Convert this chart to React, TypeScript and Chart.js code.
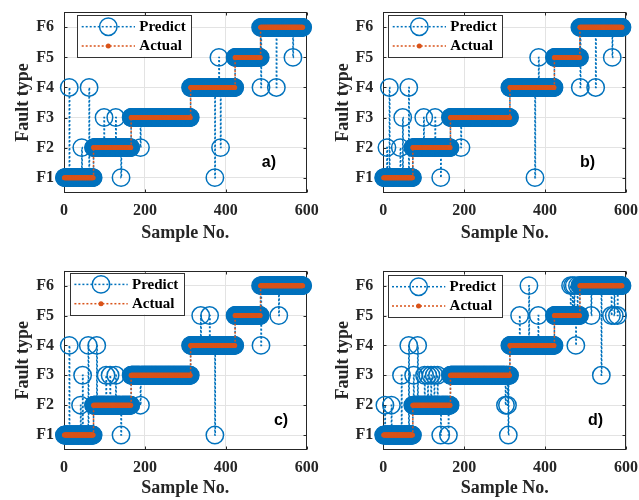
import React, { useEffect, useRef } from 'react';
import { Chart, registerables } from 'chart.js';

Chart.register(...registerables);

// ---------------- data ----------------
const classNames = ['F1', 'F2', 'F3', 'F4', 'F5', 'F6'];
const classValues = [1, 2, 3, 4, 5, 6];
// first sample number of each actual fault class F1..F6
const classStart = [1, 73, 166, 313, 423, 486];
const lastSample = 590;
const xTickValues = [0, 200, 400, 600];

// misclassified samples (sample number) and the class predicted for them
const missA = [13, 44, 62, 99, 128, 141, 189, 373, 383, 387, 487, 525, 566];
const predA = [4, 2, 4, 3, 3, 1, 2, 1, 5, 2, 4, 4, 5];

const missB = [9, 15, 42, 48, 63, 100, 128, 142, 192, 375, 384, 487, 525, 566];
const predB = [2, 4, 2, 3, 4, 3, 3, 1, 2, 1, 5, 4, 4, 5];

const missC = [13, 41, 46, 60, 81, 104, 114, 128, 141, 189, 338, 360, 373, 487, 531];
const predC = [4, 2, 3, 4, 4, 3, 3, 3, 1, 2, 5, 5, 1, 4, 5];

const missD = [4, 20, 45, 63, 75, 85, 102, 110, 118, 126, 134, 142, 161, 302, 307, 309, 337, 360, 383, 463, 468, 472, 476, 480, 514, 539, 564, 571, 579];
const predD = [2, 2, 3, 4, 3, 4, 3, 3, 3, 3, 3, 1, 1, 2, 2, 1, 5, 6, 5, 6, 6, 6, 4, 6, 5, 3, 5, 5, 5];

const panelLetters = ['a)', 'b)', 'c)', 'd)'];
const letterX = [489, 486, 519, 506];
const letterY = 1.5;

// ---------------- styles ----------------
const BLUE = '#0072BD';
const ORANGE = '#D95319';
const AXIS = '#262626';
const GRID = '#e3e3e3';
const SERIF = "'Liberation Serif', 'Times New Roman', serif";
const SANS = "'Liberation Sans', Arial, sans-serif";

interface Panel {
  left: number; top: number; w: number; h: number;
  padTop: number; padRight: number; yWidth: number; xHeight: number;
  xTickPad: number; xTitlePad: number;
  legDx: number; legDy: number;
  miss: number[]; pred: number[];
  idx: number;
}

const panels: Panel[] = [
  { left: 0, top: 0, w: 320, h: 250, padTop: 12.3, padRight: 13.3, yWidth: 64, xHeight: 57.3, xTickPad: 8.4, xTitlePad: 6.2, legDx: 13.3, legDy: 2.7, miss: missA, pred: predA, idx: 0 },
  { left: 320, top: 0, w: 319, h: 250, padTop: 12.3, padRight: 13, yWidth: 63.3, xHeight: 57.3, xTickPad: 8.4, xTitlePad: 6.2, legDx: 5, legDy: 2.7, miss: missB, pred: predB, idx: 1 },
  { left: 0, top: 250, w: 320, h: 250, padTop: 20.7, padRight: 13.3, yWidth: 64, xHeight: 50, xTickPad: 8.7, xTitlePad: 0.9, legDx: 6, legDy: 2, miss: missC, pred: predC, idx: 2 },
  { left: 320, top: 250, w: 319, h: 250, padTop: 20.7, padRight: 13, yWidth: 63.3, xHeight: 50, xTickPad: 8.7, xTitlePad: 0.9, legDx: 4.3, legDy: 4.3, miss: missD, pred: predD, idx: 3 },
];

function actualClass(s: number): number {
  let c = 0;
  for (let i = 0; i < classStart.length; i++) if (s >= classStart[i]) c = classValues[i];
  return c;
}

function buildSeries(miss: number[], pred: number[]) {
  const actual: { x: number; y: number }[] = [];
  const predicted: { x: number; y: number }[] = [];
  for (let s = 1; s <= lastSample; s++) {
    const a = actualClass(s);
    actual.push({ x: s, y: a });
    const k = miss.indexOf(s);
    predicted.push({ x: s, y: k >= 0 ? pred[k] : a });
  }
  return { actual, predicted };
}

const R_PRED = 8.7;

function makeFramePlugin(p: Panel) {
  return {
    id: 'frame' + p.idx,
    beforeDatasetsDraw(chart: any) {
      const { ctx, chartArea: ca, scales } = chart;
      ctx.save();
      ctx.strokeStyle = AXIS;
      ctx.lineWidth = 1;
      const L = Math.round(ca.left) + 0.5, R = Math.round(ca.right) - 0.5;
      const T = Math.round(ca.top) + 0.5, B = Math.round(ca.bottom) - 0.5;
      ctx.strokeRect(L, T, R - L, B - T);
      const tl = 3;
      ctx.beginPath();
      xTickValues.forEach((v) => {
        const x = Math.round(scales.x.getPixelForValue(v)) + 0.5;
        ctx.moveTo(x, B); ctx.lineTo(x, B - tl);
        ctx.moveTo(x, T); ctx.lineTo(x, T + tl);
      });
      classValues.forEach((v) => {
        const y = Math.round(scales.y.getPixelForValue(v)) + 0.5;
        ctx.moveTo(L, y); ctx.lineTo(L + tl, y);
        ctx.moveTo(R, y); ctx.lineTo(R - tl, y);
      });
      ctx.stroke();
      ctx.restore();
    },
    afterDraw(chart: any) {
      const { ctx, chartArea: ca, scales } = chart;
      ctx.save();
      // legend
      const lx = ca.left + p.legDx;
      const ly = ca.top + p.legDy;
      const lw = 114.4, lh = 41.7;
      ctx.fillStyle = '#ffffff';
      ctx.fillRect(lx, ly, lw, lh);
      ctx.strokeStyle = '#333333';
      ctx.lineWidth = 1;
      ctx.strokeRect(Math.round(lx) + 0.5, Math.round(ly) + 0.5, Math.round(lw), Math.round(lh));
      const rows = [
        { label: 'Predict', color: BLUE, y: ly + 11.7, circle: true },
        { label: 'Actual', color: ORANGE, y: ly + 31, circle: false },
      ];
      rows.forEach((r) => {
        ctx.strokeStyle = r.color;
        ctx.lineWidth = 1.5;
        ctx.setLineDash([2, 2]);
        ctx.beginPath();
        ctx.moveTo(lx + 4.4, r.y);
        ctx.lineTo(lx + 57.7, r.y);
        ctx.stroke();
        ctx.setLineDash([]);
        ctx.beginPath();
        if (r.circle) {
          ctx.arc(lx + 31, r.y, R_PRED, 0, Math.PI * 2);
          ctx.stroke();
        } else {
          ctx.fillStyle = r.color;
          ctx.arc(lx + 31, r.y, 2.5, 0, Math.PI * 2);
          ctx.fill();
        }
        ctx.fillStyle = '#000000';
        ctx.font = `bold 15px ${SERIF}`;
        ctx.textAlign = 'left';
        ctx.textBaseline = 'middle';
        ctx.fillText(r.label, lx + 62, r.y + 0.5);
      });
      // panel letter
      ctx.fillStyle = '#000000';
      ctx.font = `bold 16px ${SANS}`;
      ctx.textAlign = 'left';
      ctx.textBaseline = 'middle';
      ctx.fillText(panelLetters[p.idx], scales.x.getPixelForValue(letterX[p.idx]), scales.y.getPixelForValue(letterY));
      ctx.restore();
    },
  };
}

function PanelChart({ p }: { p: Panel }) {
  const ref = useRef<HTMLCanvasElement | null>(null);
  useEffect(() => {
    if (!ref.current) return;
    const { actual, predicted } = buildSeries(p.miss, p.pred);
    const chart = new Chart(ref.current, {
      type: 'line',
      data: {
        datasets: [
          {
            label: 'Predict',
            data: predicted,
            borderColor: BLUE,
            borderWidth: 1.5,
            borderDash: [2, 2],
            stepped: true,
            pointRadius: R_PRED,
            pointBorderWidth: 1.5,
            pointBorderColor: BLUE,
            pointBackgroundColor: 'rgba(0,0,0,0)',
            fill: false,
            order: 1,
            clip: false as any,
          },
          {
            label: 'Actual',
            data: actual,
            borderColor: ORANGE,
            borderWidth: 1.5,
            borderDash: [2, 2],
            stepped: true,
            pointRadius: 2.5,
            pointBorderWidth: 0,
            pointBackgroundColor: ORANGE,
            pointBorderColor: ORANGE,
            fill: false,
            order: 0,
            clip: false as any,
          },
        ] as any,
      },
      options: {
        responsive: false,
        animation: false,
        events: [],
        layout: { padding: { top: p.padTop, right: p.padRight, left: 0, bottom: 0 } },
        plugins: { legend: { display: false }, tooltip: { enabled: false } },
        scales: {
          x: {
            type: 'linear',
            min: 0,
            max: 600,
            afterBuildTicks: (s: any) => { s.ticks = xTickValues.map((v) => ({ value: v })); },
            afterFit: (s: any) => { s.height = p.xHeight; },
            grid: { color: GRID, lineWidth: 1, drawTicks: true, tickLength: p.xTickPad, tickColor: 'rgba(0,0,0,0)' },
            border: { display: false },
            ticks: {
              padding: 0,
              color: AXIS,
              font: { family: SERIF, size: 16, weight: 'bold' },
              maxRotation: 0,
              autoSkip: false,
            },
            title: {
              display: true,
              text: 'Sample No.',
              color: AXIS,
              font: { family: SERIF, size: 18, weight: 'bold' },
              padding: { top: 0, bottom: p.xTitlePad },
            },
          },
          y: {
            type: 'linear',
            min: 0.5,
            max: 6.5,
            afterBuildTicks: (s: any) => { s.ticks = classValues.map((v) => ({ value: v })); },
            afterFit: (s: any) => { s.width = p.yWidth; },
            grid: { color: GRID, lineWidth: 1, drawTicks: true, tickLength: 10, tickColor: 'rgba(0,0,0,0)' },
            border: { display: false },
            ticks: {
              padding: 0,
              color: AXIS,
              font: { family: SERIF, size: 16, weight: 'bold' },
              autoSkip: false,
              callback: (v: any) => classNames[classValues.indexOf(Number(v))] ?? '',
            },
            title: {
              display: true,
              text: 'Fault type',
              color: AXIS,
              font: { family: SERIF, size: 18, weight: 'bold' },
              padding: { top: 12.5, bottom: 0 },
            },
          },
        },
      } as any,
      plugins: [makeFramePlugin(p)],
    });
    return () => chart.destroy();
  }, [p]);
  return (
    <div style={{ position: 'absolute', left: p.left, top: p.top, width: p.w, height: p.h }}>
      <canvas ref={ref} width={p.w} height={p.h} style={{ display: 'block', width: p.w, height: p.h }} />
    </div>
  );
}

export default function App() {
  return (
    <div style={{ position: 'absolute', left: 0, top: 0, width: 639, height: 500, background: '#ffffff', overflow: 'hidden' }}>
      {panels.map((p) => (
        <PanelChart key={p.idx} p={p} />
      ))}
    </div>
  );
}
